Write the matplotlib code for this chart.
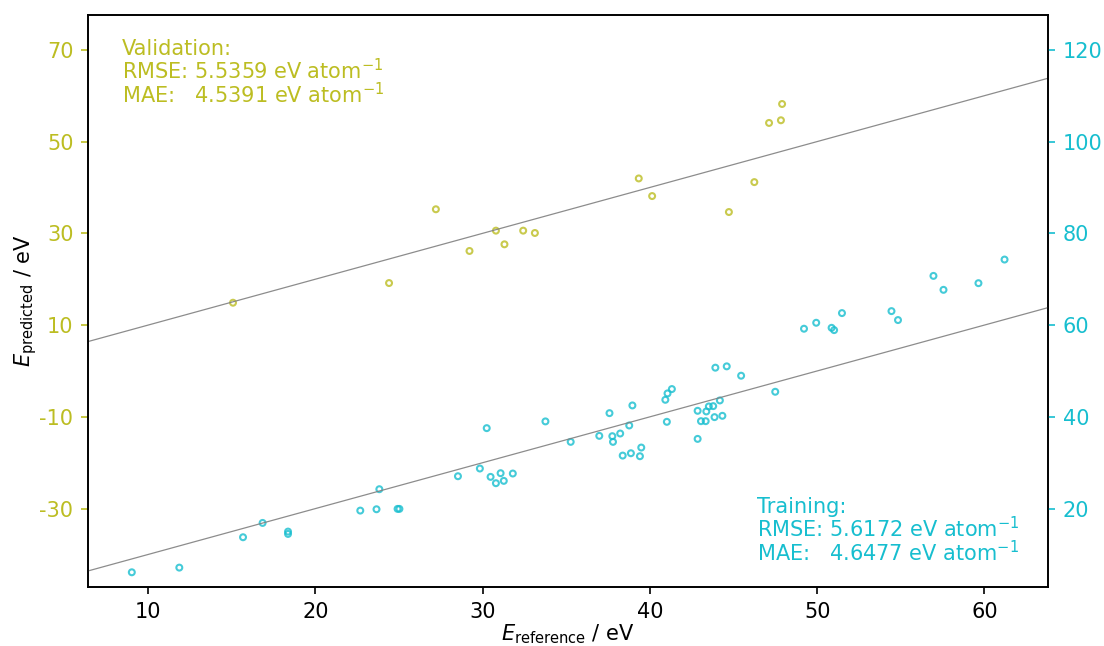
import matplotlib
matplotlib.use('Agg')
import matplotlib.pyplot as plt

plt.rcParams['axes.unicode_minus'] = False

# validation set: reference vs predicted energies (left axis)
val_ref = [15.07, 24.40, 27.20, 29.21, 30.79, 31.30, 32.42, 33.12, 39.33, 40.13,
           44.72, 46.24, 47.12, 47.83, 47.90]
val_pred = [14.87, 19.16, 35.24, 26.15, 30.58, 27.60, 30.58, 30.07, 41.96, 38.12,
            34.64, 41.16, 54.06, 54.64, 58.19]

# training set: reference vs predicted energies (right axis)
train_ref = [9.02, 11.86, 15.67, 16.84, 18.36, 18.36, 22.68, 23.65, 23.82, 24.91,
             25.02, 28.52, 29.83, 30.24, 30.47, 30.79, 31.07, 31.26, 31.80, 33.75,
             35.26, 36.97, 37.58, 37.75, 37.79, 38.22, 38.37, 38.76, 38.86, 38.95,
             39.40, 39.48, 40.92, 41.01, 41.05, 41.31, 42.85, 42.85, 43.05, 43.33,
             43.37, 43.52, 43.78, 43.86, 43.91, 44.18, 44.33, 44.59, 45.45, 47.49,
             49.21, 49.94, 50.86, 51.01, 51.48, 54.44, 54.83, 56.95, 57.55, 59.64,
             61.20]
train_pred = [6.11, 7.13, 13.75, 16.87, 14.98, 14.47, 19.56, 19.85, 24.22, 19.93,
              19.93, 27.05, 28.73, 37.53, 26.91, 25.53, 27.71, 26.04, 27.64, 39.00,
              34.54, 35.85, 40.80, 35.78, 34.54, 36.36, 31.55, 38.11, 32.06, 42.48,
              31.41, 33.30, 43.71, 38.91, 45.10, 46.05, 35.19, 41.31, 39.05, 39.05,
              41.17, 42.26, 42.33, 39.93, 50.71, 43.57, 40.22, 51.00, 48.96, 45.46,
              59.20, 60.50, 59.40, 58.90, 62.61, 63.04, 61.09, 70.72, 67.68, 69.13,
              74.28]

val_text = 'Validation:\nRMSE: 5.5359 eV atom$^{-1}$\nMAE:   4.5391 eV atom$^{-1}$'
train_text = 'Training:\nRMSE: 5.6172 eV atom$^{-1}$\nMAE:   4.6477 eV atom$^{-1}$'

val_color = '#bcbd22'
train_color = '#17becf'

xlim = (6.4, 63.8)
ylim_val = (-47.1, 77.6)
ylim_train = (ylim_val[0] + 50, ylim_val[1] + 50)

fig = plt.figure(figsize=(7.36, 4.307), dpi=150)
fig.subplots_adjust(left=0.0797, right=0.9493, top=0.9768, bottom=0.0913)
ax1 = fig.add_subplot(111)
ax2 = ax1.twinx()

# y = x guide lines on both axes
ax1.plot(xlim, xlim, color='gray', lw=0.6, alpha=0.9)
ax2.plot(xlim, xlim, color='gray', lw=0.6, alpha=0.9)

ax1.scatter(val_ref, val_pred, s=8, facecolors='none', edgecolors=val_color,
            linewidths=1.0, alpha=0.8)
ax2.scatter(train_ref, train_pred, s=8, facecolors='none', edgecolors=train_color,
            linewidths=1.0, alpha=0.8)

ax1.set_xlim(xlim)
ax1.set_ylim(ylim_val)
ax2.set_ylim(ylim_train)
ax1.set_yticks([-30, -10, 10, 30, 50, 70])
ax2.set_yticks([20, 40, 60, 80, 100, 120])
ax1.tick_params(axis='y', colors=val_color)
ax2.tick_params(axis='y', colors=train_color)

ax1.set_xlabel('$E_\\mathrm{reference}$ / eV', labelpad=0.5)
ax1.set_ylabel('$E_\\mathrm{predicted}$ / eV', labelpad=0)

ax1.text(0.035, 0.958, val_text, transform=ax1.transAxes, color=val_color,
         ha='left', va='top', fontsize=10, linespacing=0.95)
ax2.text(0.6965, 0.038, train_text, transform=ax2.transAxes, color=train_color,
         ha='left', va='bottom', fontsize=10, linespacing=0.95)

plt.savefig('out.png', dpi=150)
